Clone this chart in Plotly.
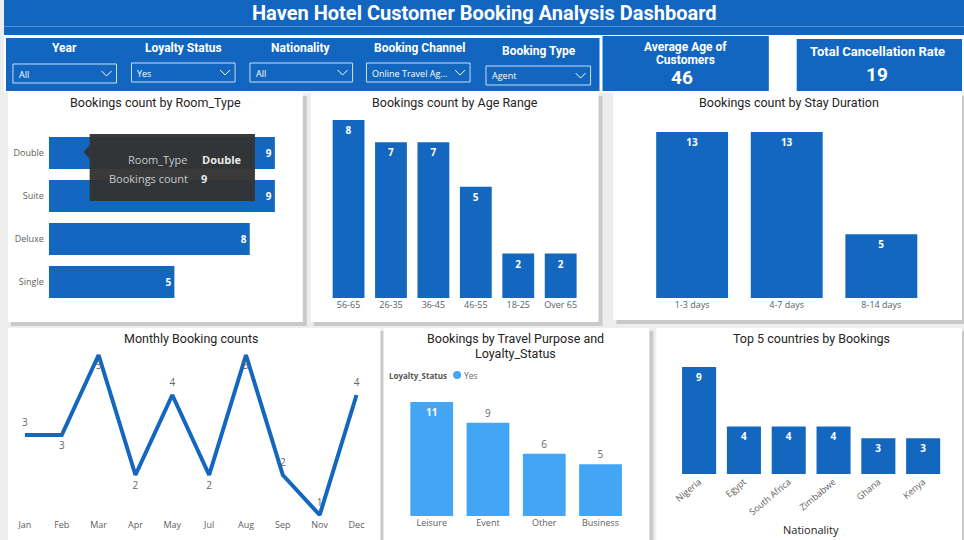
import plotly.graph_objects as go

W, H = 964, 540

# ---------------- data ----------------
room_types = ["Double", "Suite", "Deluxe", "Single"]
room_counts = [9, 9, 8, 5]

age_ranges = ["56-65", "26-35", "36-45", "46-55", "18-25", "Over 65"]
age_counts = [8, 7, 7, 5, 2, 2]

stay_durations = ["1-3 days", "4-7 days", "8-14 days"]
stay_counts = [13, 13, 5]

months = ["Jan", "Feb", "Mar", "Apr", "May", "Jul", "Aug", "Sep", "Nov", "Dec"]
month_counts = [3, 3, 5, 2, 4, 2, 5, 2, 1, 4]

purposes = ["Leisure", "Event", "Other", "Business"]
purpose_counts = [11, 9, 6, 5]

countries = ["Nigeria", "Egypt", "South Africa", "Zimbabwe", "Ghana", "Kenya"]
country_counts = [9, 4, 4, 4, 3, 3]

slicer_labels = ["Year", "Loyalty Status", "Nationality", "Booking Channel", "Booking Type"]
slicer_values = ["All", "Yes", "All", "Online Travel Ag...", "Agent"]

avg_age = 46
cancel_rate = 19

# ---------------- style ----------------
BLUE = "#1266bf"
BAR = "#1467be"
LIGHT = "#42a5f5"
TITLE_FONT = "Roboto"
BODY_FONT = "Open Sans"
TICK = "#605e5c"


def px(x):
    return x / W


def py(y):
    return 1 - y / H


fig = go.Figure()
shapes = []
ann = []


def rect(x0, y0, x1, y1, color, line=None, layer="below"):
    shapes.append(dict(type="rect", xref="paper", yref="paper",
                       x0=px(x0), x1=px(x1), y0=py(y1), y1=py(y0),
                       fillcolor=color, line=dict(width=0) if line is None else line,
                       layer=layer))


def text(x, y, s, size=12, color="#252423", bold=False, xanchor="center",
         font=TITLE_FONT):
    ann.append(dict(x=px(x), y=py(y), xref="paper", yref="paper", text=f"<b>{s}</b>" if bold else s,
                    showarrow=False, xanchor=xanchor, yanchor="middle",
                    font=dict(size=size, color=color, family=font)))


# header
rect(0, 0, 964, 35, BLUE)
shapes.append(dict(type="line", xref="paper", yref="paper", x0=0, x1=1, y0=py(26.5), y1=py(26.5),
                   line=dict(color="#4b8fd8", width=1), layer="below"))
text(482, 13, "Haven Hotel Customer Booking Analysis Dashboard", size=20, color="white", bold=True)

# white strip under header
rect(0, 35, 964, 93, "white")
# slicer panel
rect(2, 38, 598, 91, BLUE)
slicer_cx = [61, 180, 298, 417, 537]
slicer_ty = [48, 48, 48, 48, 51]
box_x = [(9, 113), (128, 232), (247, 350), (364, 468), (484, 589)]
box_y = [(64, 83), (63, 82), (63, 82), (63, 82), (66, 85)]
for lab, val, cx, ty, (bx0, bx1), (by0, by1) in zip(slicer_labels, slicer_values, slicer_cx, slicer_ty, box_x, box_y):
    text(cx, ty, lab, size=12, color="white", bold=True)
    rect(bx0, by0, bx1, by1, "rgba(0,0,0,0)", line=dict(color="#c9ddf3", width=1), layer="above")
    text(bx0 + 4, (by0 + by1) / 2 + 0.5, val, size=9, color="white", xanchor="left", font=BODY_FONT)
    cxv = bx1 - 10
    cyv = (by0 + by1) / 2
    shapes.append(dict(type="path", xref="paper", yref="paper",
                       path=f"M {px(cxv-5)},{py(cyv-2.5)} L {px(cxv)},{py(cyv+2.5)} L {px(cxv+5)},{py(cyv-2.5)}",
                       line=dict(color="white", width=1), layer="above"))

# KPI cards
rect(601, 36, 768, 91, BLUE)
text(684, 47, "Average Age of", size=12, color="white", bold=True)
text(684, 60, "Customers", size=12, color="white", bold=True)
text(681, 78, str(avg_age), size=19, color="white", bold=True)
rect(796, 39, 962, 91, BLUE)
text(877, 51, "Total Cancellation Rate", size=13, color="white", bold=True)
text(877, 74, str(cancel_rate), size=19, color="white", bold=True)

# chart panels with shadows
panels = [(4, 93, 300, 322), (308, 93, 597, 322), (612, 93, 962, 320),
          (4, 328, 378, 540), (381, 328, 648, 540), (655, 328, 962, 540)]
for (x0, y0, x1, y1) in panels:
    rect(x0 + 3, y0 + 3, x1 + 4, y1 + 4, "#c9c9c9")
for (x0, y0, x1, y1) in panels:
    rect(x0, y0, x1, y1, "white")

text(152, 102, "Bookings count by Room_Type", size=12.5)
text(453, 102, "Bookings count by Age Range", size=12.5)
text(788, 102, "Bookings count by Stay Duration", size=12.5)
text(188, 338, "Monthly Booking counts", size=12.5)
text(514, 338, "Bookings by Travel Purpose and", size=12.5)
text(514, 353, "Loyalty_Status", size=12.5)
text(811, 338, "Top 5 countries by Bookings", size=12.5)

# legend for travel purpose
text(385, 375, "Loyalty_Status", size=8, color="#555555", bold=True, xanchor="left", font=BODY_FONT)
shapes.append(dict(type="circle", xref="paper", yref="paper", x0=px(451), x1=px(459), y0=py(379), y1=py(371),
                   fillcolor=LIGHT, line=dict(width=0), layer="above"))
text(460, 375, "Yes", size=8.5, color="#666666", xanchor="left", font=BODY_FONT)

text(810, 529, "Nationality", size=11, color="#252423", font=BODY_FONT)

lab_font = dict(family=BODY_FONT, size=10, color="white")
tick_font = dict(family=BODY_FONT, size=9, color=TICK)


def hide_axis(**kw):
    d = dict(showgrid=False, zeroline=False, showticklabels=False, showline=False, ticks="", fixedrange=True)
    d.update(kw)
    return d


def cat_axis(**kw):
    d = dict(showgrid=False, zeroline=False, showline=False, ticks="", tickfont=tick_font, type="category")
    d.update(kw)
    return d

# 1. Room type (horizontal)
fig.add_trace(go.Bar(y=room_types, x=room_counts, orientation="h", marker=dict(color=BAR, line=dict(width=0)),
                     text=[f"<b>{v}</b>" for v in room_counts], textposition="inside", insidetextanchor="end",
                     textangle=0, textfont=lab_font, xaxis="x", yaxis="y", width=0.745))
x_per = (272 - 45) / 9
layout_axes = {}
layout_axes["xaxis"] = hide_axis(domain=[px(45), px(290)], range=[0, (290 - 45) / x_per], anchor="y")
layout_axes["yaxis"] = cat_axis(domain=[py(303.5), py(131.5)], range=[3.5, -0.5], anchor="x",
                                categoryorder="array", categoryarray=room_types, ticklabelstandoff=4)

# 2. Age range
fig.add_trace(go.Bar(x=age_ranges, y=age_counts, marker=dict(color=BAR, line=dict(width=0)),
                     text=[f"<b>{v}</b>" for v in age_counts], textposition="inside", insidetextanchor="end",
                     textangle=0, textfont=lab_font, xaxis="x2", yaxis="y2", width=0.75))
slot = 42.6
left = 346 - slot / 2
layout_axes["xaxis2"] = cat_axis(domain=[px(left), px(left + 6 * slot)], anchor="y2")
u = (298 - 120) / 8
layout_axes["yaxis2"] = hide_axis(domain=[py(298), py(112)], range=[0, (298 - 112) / u], anchor="x2")

# 3. Stay duration
fig.add_trace(go.Bar(x=stay_durations, y=stay_counts, marker=dict(color=BAR, line=dict(width=0)),
                     text=[f"<b>{v}</b>" for v in stay_counts], textposition="inside", insidetextanchor="end",
                     textangle=0, textfont=lab_font, xaxis="x3", yaxis="y3", width=0.76))
slot = 95
left = 691 - slot / 2
layout_axes["xaxis3"] = cat_axis(domain=[px(left), px(left + 3 * slot)], anchor="y3")
u = (298 - 132) / 13
layout_axes["yaxis3"] = hide_axis(domain=[py(298), py(125)], range=[0, (298 - 125) / u], anchor="x3")

# 4. Monthly line
positions = ["top center", "bottom center", "bottom center", "bottom center", "top center",
             "bottom center", "bottom center", "top center", "top center", "top center"]
fig.add_trace(go.Scatter(x=months, y=month_counts, mode="lines+markers+text", line=dict(color=BAR, width=4),
                         marker=dict(size=9, color="rgba(0,0,0,0)"),
                         text=[str(v) for v in month_counts], textposition=positions,
                         textfont=dict(family=BODY_FONT, size=10, color="#666666"),
                         xaxis="x4", yaxis="y4", cliponaxis=False))
step = 37
x0p, x1p = 4, 372
layout_axes["xaxis4"] = cat_axis(domain=[px(x0p), px(x1p)], range=[(x0p - 21) / step, 9 + (x1p - 354) / step],
                                 anchor="y4")
# value v -> pixel 555 - 40 v
yb, yt = 518, 350
layout_axes["yaxis4"] = hide_axis(domain=[py(yb), py(yt)], range=[(555 - yb) / 40, (555 - yt) / 40], anchor="x4")

# 5. Travel purpose
fig.add_trace(go.Bar(x=purposes, y=purpose_counts, marker=dict(color=LIGHT, line=dict(width=0)),
                     text=[f"<b>{purpose_counts[0]}</b>"] + [str(v) for v in purpose_counts[1:]],
                     textposition=["inside", "outside", "outside", "outside"], insidetextanchor="end",
                     textangle=0, insidetextfont=dict(family=BODY_FONT, size=10, color="white"),
                     outsidetextfont=dict(family=BODY_FONT, size=10, color="#666666"),
                     xaxis="x5", yaxis="y5", width=0.76, cliponaxis=False))
slot = 56.5
left = 429.5 - slot / 2
layout_axes["xaxis5"] = cat_axis(domain=[px(left), px(left + 4 * slot)], anchor="y5")
u = (516 - 402) / 11
layout_axes["yaxis5"] = hide_axis(domain=[py(516), py(392)], range=[0, (516 - 392) / u], anchor="x5")

# 6. Countries
fig.add_trace(go.Bar(x=countries, y=country_counts, marker=dict(color=BAR, line=dict(width=0)),
                     text=[f"<b>{v}</b>" for v in country_counts], textposition="inside", insidetextanchor="end",
                     textangle=0, textfont=lab_font, xaxis="x6", yaxis="y6", width=0.76))
slot = 45
left = 698 - slot / 2
layout_axes["xaxis6"] = cat_axis(domain=[px(left), px(left + 6 * slot)], anchor="y6", tickangle=-40)
u = (474 - 367) / 9
layout_axes["yaxis6"] = hide_axis(domain=[py(474), py(360)], range=[0, (474 - 360) / u], anchor="x6")

# tooltip on room chart
rect(86, 134, 252, 201, "rgba(52,52,52,0.97)", layer="above")
shapes.append(dict(type="path", xref="paper", yref="paper",
                   path=f"M {px(86)},{py(145)} L {px(80)},{py(152)} L {px(86)},{py(159)} Z",
                   fillcolor="rgba(52,52,52,0.97)", line=dict(width=0), layer="above"))
text(187, 159, "Room_Type", size=11, color="#c8c8c8", xanchor="right", font=BODY_FONT)
text(197, 159, "Double", size=11, color="#e8e8e8", bold=True, xanchor="left", font=BODY_FONT)
text(187, 178, "Bookings count", size=11, color="#c8c8c8", xanchor="right", font=BODY_FONT)
text(196, 178, "9", size=11, color="#e8e8e8", bold=True, xanchor="left", font=BODY_FONT)

fig.update_layout(
    width=W, height=H, margin=dict(l=0, r=0, t=0, b=0),
    paper_bgcolor="#ededed", plot_bgcolor="rgba(0,0,0,0)",
    showlegend=False, shapes=shapes, annotations=ann,
    font=dict(family=BODY_FONT),
    uniformtext=dict(minsize=8, mode="show"),
    **layout_axes,
)

fig.write_html("out.html", config={"displayModeBar": False})
